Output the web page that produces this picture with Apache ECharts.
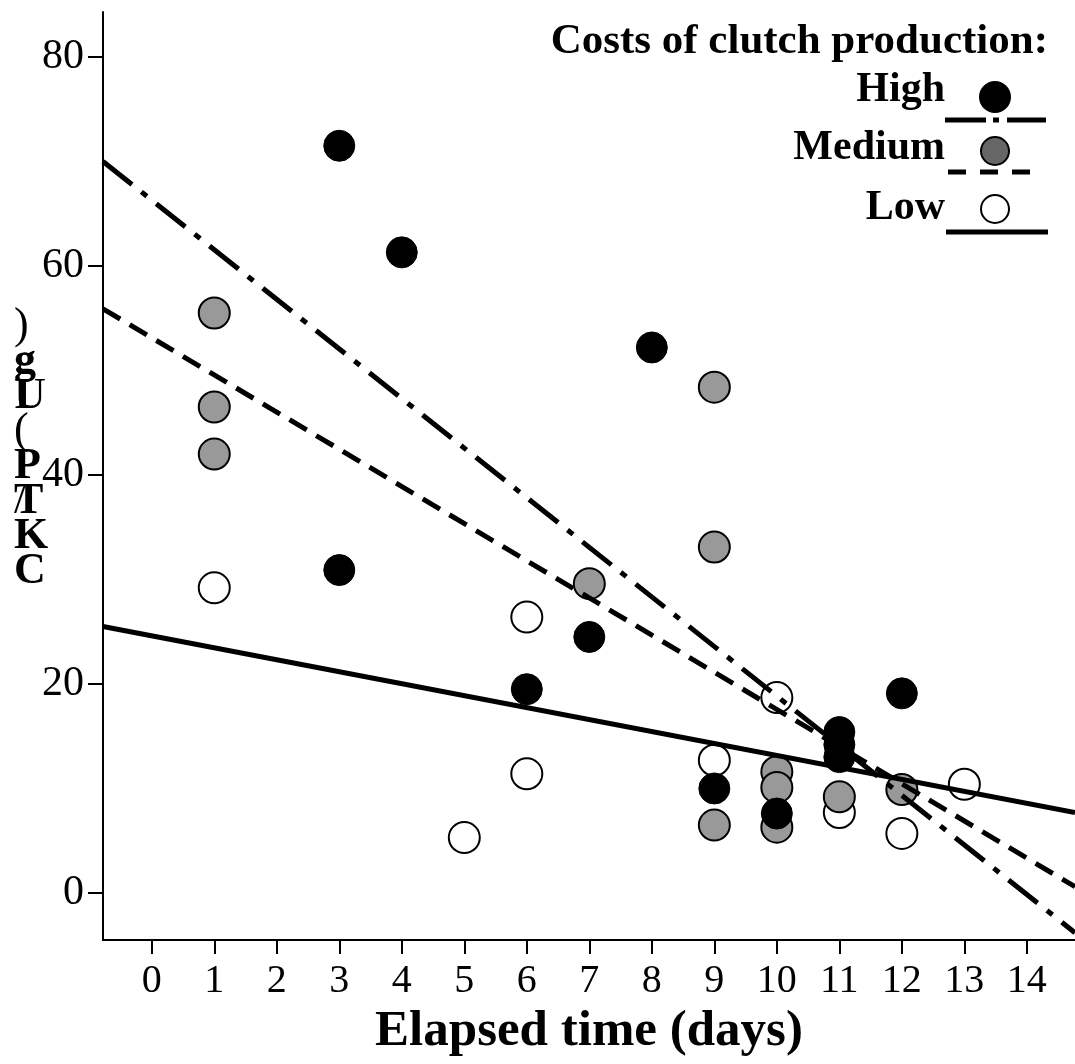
<!DOCTYPE html>
<html>
<head>
<meta charset="utf-8">
<script src="https://cdn.jsdelivr.net/npm/echarts@6/dist/echarts.min.js"></script>
<style>html,body{margin:0;padding:0;background:#fff}#c{width:1075px;height:1064px}</style>
</head>
<body>
<div id="c"></div>
<script>
// ---- data ----
const xTicks = [0,1,2,3,4,5,6,7,8,9,10,11,12,13,14];
const yTicks = [0,20,40,60,80];
const highPts = [[3,71.5],[4,61.3],[8,52.2],[3,30.9],[7,24.5],[6,19.5],[12,19.1],[11,15.4],[11,14.2],[11,13.0],[9,10.0],[10,7.6]];
const mediumPts = [[1,55.5],[1,46.5],[1,42.0],[9,48.4],[9,33.1],[9,6.5],[7,29.6],[10,11.6],[10,10.1],[10,6.3],[11,9.2],[12,9.9]];
const lowPts = [[1,29.2],[6,26.4],[6,11.4],[5,5.3],[10,18.7],[9,12.7],[11,7.7],[12,5.7],[13,10.4]];
const highFit = [[-0.78,70.0],[14.77,-3.8]];
const mediumFit = [[-0.78,55.9],[14.77,0.6]];
const lowFit = [[-0.78,25.5],[14.77,7.7]];
const legendTitle = 'Costs of clutch production:';
const legendNames = ['High','Medium','Low'];
const xName = 'Elapsed time (days)';
const yNameBold = ['', 'g', 'I', '', 'P', 'T', 'K', 'C'];
const yNameReg = [')', 'g', 'U', '(', '', '/', '', ''];

const FONT = '"Liberation Serif", "Times New Roman", serif';
const chart = echarts.init(document.getElementById('c'), null, {renderer:'canvas'});

const mk = (color) => ({color: color, borderColor:'#000', borderWidth:2, opacity:1});

chart.setOption({
  backgroundColor:'#fff',
  animation:false,
  grid:{left:103, right:0, top:12, bottom:124, containLabel:false},
  xAxis:{
    type:'value', min:-0.78, max:14.77,
    name:xName, nameLocation:'middle', nameGap:63,
    nameTextStyle:{fontFamily:FONT, fontSize:51, fontWeight:'bold', color:'#000'},
    axisLine:{show:true, onZero:false, lineStyle:{color:'#000', width:2}},
    axisTick:{show:true, inside:false, length:14, customValues:xTicks, lineStyle:{color:'#000', width:2}},
    axisLabel:{customValues:xTicks, margin:21, fontFamily:FONT, fontSize:40, color:'#000'},
    splitLine:{show:false}
  },
  yAxis:{
    type:'value', min:-4.5, max:84.3,
    axisLine:{show:true, onZero:false, lineStyle:{color:'#000', width:2}},
    axisTick:{show:true, inside:false, length:15, customValues:yTicks, lineStyle:{color:'#000', width:2}},
    axisLabel:{customValues:yTicks, margin:19, fontFamily:FONT, fontSize:42, color:'#000'},
    splitLine:{show:false}
  },
  series:[
    {type:'scatter', name:'Low', data:lowPts, symbol:'circle', symbolSize:31, itemStyle:mk('#ffffff'), z:2},
    {type:'scatter', name:'Medium', data:mediumPts, symbol:'circle', symbolSize:31, itemStyle:mk('#999999'), z:3},
    {type:'scatter', name:'High', data:highPts, symbol:'circle', symbolSize:31, itemStyle:{color:'#000', borderColor:'#000', borderWidth:1, opacity:1}, z:4},
    {type:'line', data:lowFit, showSymbol:false, symbol:'none', lineStyle:{color:'#000', width:5, type:'solid'}, z:5},
    {type:'line', data:mediumFit, showSymbol:false, symbol:'none', lineStyle:{color:'#000', width:5, type:[20,11]}, z:5},
    {type:'line', data:highFit, showSymbol:false, symbol:'none', lineStyle:{color:'#000', width:5, type:[37,12,7,12]}, z:5}
  ],
  graphic:[
    {type:'text', x:1048, y:42, style:{text:legendTitle, font:'bold 43px '+FONT, fill:'#000', textAlign:'right', textVerticalAlign:'middle'}},
    {type:'text', x:945, y:90, style:{text:legendNames[0], font:'bold 42px '+FONT, fill:'#000', textAlign:'right', textVerticalAlign:'middle'}},
    {type:'text', x:945, y:148, style:{text:legendNames[1], font:'bold 42px '+FONT, fill:'#000', textAlign:'right', textVerticalAlign:'middle'}},
    {type:'text', x:945, y:208, style:{text:legendNames[2], font:'bold 42px '+FONT, fill:'#000', textAlign:'right', textVerticalAlign:'middle'}},
    {type:'circle', shape:{cx:995, cy:97, r:15}, style:{fill:'#000', stroke:'#000', lineWidth:2}},
    {type:'circle', shape:{cx:995, cy:151, r:14}, style:{fill:'#666', stroke:'#000', lineWidth:2}},
    {type:'circle', shape:{cx:995, cy:209, r:14}, style:{fill:'#fff', stroke:'#000', lineWidth:2}},
    {type:'line', shape:{x1:945, y1:120, x2:1046, y2:120}, style:{stroke:'#000', lineWidth:5, lineDash:[41,7,6,8]}},
    {type:'line', shape:{x1:948, y1:172, x2:1034, y2:172}, style:{stroke:'#000', lineWidth:5, lineDash:[18,14]}},
    {type:'line', shape:{x1:946, y1:232, x2:1048, y2:232}, style:{stroke:'#000', lineWidth:5}},
    {type:'text', x:14, y:309, style:{text:yNameReg.join('\n'), font:'44px '+FONT, lineHeight:35, fill:'#000', textAlign:'left', textVerticalAlign:'top'}},
    {type:'text', x:14, y:309, style:{text:yNameBold.join('\n'), font:'bold 44px '+FONT, lineHeight:35, fill:'#000', textAlign:'left', textVerticalAlign:'top'}}
  ]
});
</script>
</body>
</html>
